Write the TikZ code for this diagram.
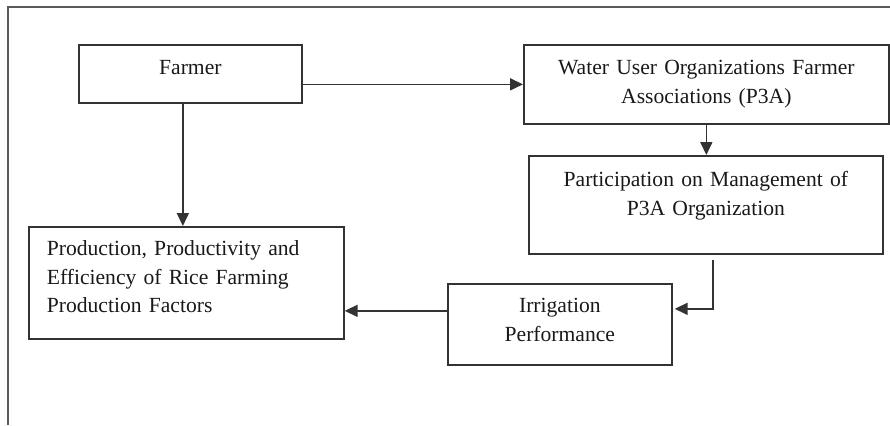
\documentclass[tikz,border=0pt]{standalone}
\usepackage{fontspec}
\setmainfont{Liberation Serif}
\usetikzlibrary{arrows.meta}

\tikzset{
	box/.style n args={4}{draw, anchor=north west, inner xsep=#4, inner ysep=0pt,
		text width=#1, text height=#2, text depth=#3, align=center},
	>={Triangle[length=6.5pt,width=6pt]},
}

\begin{document}
\begin{tikzpicture}[x=0.5pt, y=-0.5pt, line width=0.85pt, draw=black!80, text=black!90,
		font=\fontsize{10.8}{14.2}\selectfont]
		\useasboundingbox (0,0) rectangle (890,425);
		\draw [line width=0.95pt, black!65] (8,425) -- (8,7) -- (890,7);

		\path	(78,44) node[box={111.5pt}{15pt}{14pt}{0pt}] (farmer) {Farmer}
			(523,44) node[box={182.5pt}{15pt}{24.5pt}{0pt}] (wuo) {Water User Organizations Farmer\\Associations (P3A)}
			(528,155) node[box={177pt}{15.5pt}{33.5pt}{0pt}] (part) {Participation on Management of\\P3A Organization}
			(447,283) node[box={112pt}{14.5pt}{26pt}{0pt}] (irr) {Irrigation\\Performance}
			(28,226) node[box={139.5pt}{14.5pt}{41.5pt}{9pt}, align=left] (prod) {Production, Productivity and\\Efficiency of Rice Farming\\Production Factors};

		\draw [->] ([xshift=-3.75pt]farmer.south) -- ([xshift=-3.75pt]farmer.south |- prod.north);
		\draw [->] (wuo.west -| farmer.east) -- (wuo.west);
		\draw [->] (wuo.south) -- (wuo.south |- part.north);
		\draw [->] ([xshift=3.5pt,yshift=-2.5pt]part.south) |- ([xshift=1pt,yshift=7.75pt]irr.east);
		\draw [->] ([yshift=6.75pt]irr.west) -- ([yshift=6.75pt]irr.west -| prod.east);
	\end{tikzpicture}
\end{document}
